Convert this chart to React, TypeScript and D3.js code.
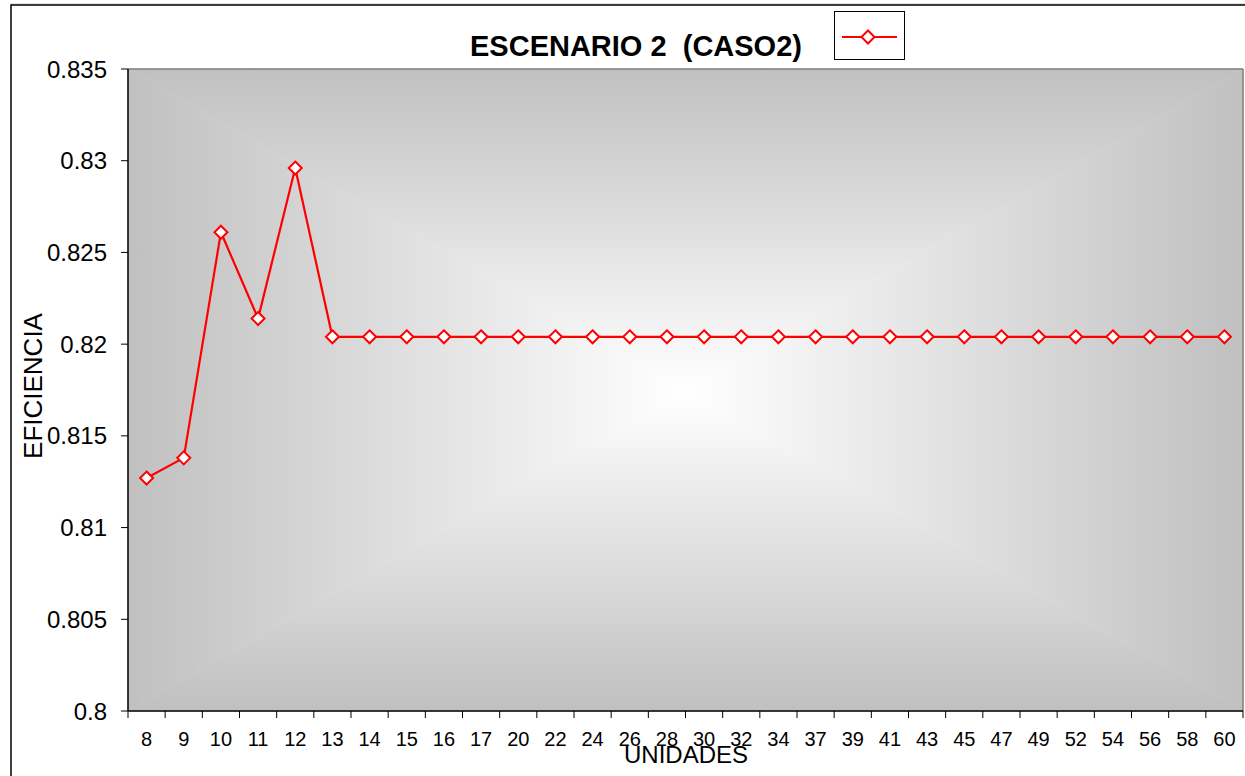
import React from "react";
import * as d3 from "d3";

const categories = ["8","9","10","11","12","13","14","15","16","17","20","22","24","26","28","30","32","34","37","39","41","43","45","47","49","52","54","56","58","60"];
const values = [0.8127,0.8138,0.8261,0.8214,0.8296,0.8204,0.8204,0.8204,0.8204,0.8204,0.8204,0.8204,0.8204,0.8204,0.8204,0.8204,0.8204,0.8204,0.8204,0.8204,0.8204,0.8204,0.8204,0.8204,0.8204,0.8204,0.8204,0.8204,0.8204,0.8204];
const yTicks = [0.8,0.805,0.81,0.815,0.82,0.825,0.83,0.835];
const yTickLabels = ["0.8","0.805","0.81","0.815","0.82","0.825","0.83","0.835"];
const title = "ESCENARIO 2  (CASO2)";
const xTitle = "UNIDADES";
const yTitle = "EFICIENCIA";

const W = 1245, H = 776;
const L = 128, R = 1243, T = 69, B = 711;
const font = "'Liberation Sans', Arial, sans-serif";
const EDGE = "#c0c0c0";
const CENTER = "#ffffff";

function diamond(cx: number, cy: number, r: number) {
  return `M${cx},${cy - r}L${cx + r},${cy}L${cx},${cy + r}L${cx - r},${cy}Z`;
}

export default function App() {
  const x = d3.scaleBand<string>().domain(categories).range([L, R]);
  const y = d3.scaleLinear().domain([0.8, 0.835]).range([B, T]);
  const cx = (L + R) / 2, cy = (T + B) / 2;
  const line = d3.line<number>().x((_, i) => (x(categories[i]) as number) + x.bandwidth() / 2).y(d => y(d));
  const boundaries = categories.map(c => x(c) as number).concat([R]);

  return (
    <svg width={W} height={H} style={{ position: "absolute", left: 0, top: 0 }} fontFamily={font}>
      <defs>
        <linearGradient id="gTop" gradientUnits="userSpaceOnUse" x1={0} y1={T} x2={0} y2={cy}>
          <stop offset="0" stopColor={EDGE} /><stop offset="1" stopColor={CENTER} />
        </linearGradient>
        <linearGradient id="gBot" gradientUnits="userSpaceOnUse" x1={0} y1={B} x2={0} y2={cy}>
          <stop offset="0" stopColor={EDGE} /><stop offset="1" stopColor={CENTER} />
        </linearGradient>
        <linearGradient id="gLeft" gradientUnits="userSpaceOnUse" x1={L} y1={0} x2={cx} y2={0}>
          <stop offset="0" stopColor={EDGE} /><stop offset="1" stopColor={CENTER} />
        </linearGradient>
        <linearGradient id="gRight" gradientUnits="userSpaceOnUse" x1={R} y1={0} x2={cx} y2={0}>
          <stop offset="0" stopColor={EDGE} /><stop offset="1" stopColor={CENTER} />
        </linearGradient>
      </defs>
      <rect x={0} y={0} width={W} height={H} fill="#ffffff" />
      <line x1={11} y1={4} x2={W} y2={4} stroke="#c8c8c8" strokeWidth={1} />
      <rect x={11} y={5} width={W + 10} height={H + 10} fill="#ffffff" stroke="#000" strokeWidth={1.5} />

      {/* plot background */}
      <path d={`M${L},${T}L${R},${T}L${cx},${cy}Z`} fill="url(#gTop)" stroke="url(#gTop)" strokeWidth={0.6} />
      <path d={`M${L},${B}L${R},${B}L${cx},${cy}Z`} fill="url(#gBot)" stroke="url(#gBot)" strokeWidth={0.6} />
      <path d={`M${L},${T}L${L},${B}L${cx},${cy}Z`} fill="url(#gLeft)" stroke="url(#gLeft)" strokeWidth={0.6} />
      <path d={`M${R},${T}L${R},${B}L${cx},${cy}Z`} fill="url(#gRight)" stroke="url(#gRight)" strokeWidth={0.6} />
      <line x1={L} y1={T} x2={R} y2={T} stroke="#808080" strokeWidth={1.5} />
      <line x1={R} y1={T} x2={R} y2={B} stroke="#808080" strokeWidth={1.5} />

      {/* axes */}
      <line x1={L} y1={T} x2={L} y2={B} stroke="#000" strokeWidth={1.5} />
      <line x1={L} y1={B} x2={R} y2={B} stroke="#000" strokeWidth={1.5} />
      {yTicks.map((t, i) => (
        <g key={"y" + i}>
          <line x1={L - 7} y1={y(t)} x2={L} y2={y(t)} stroke="#000" strokeWidth={1} />
          <text x={107} y={y(t)} dy="0.36em" textAnchor="end" fontSize={24} fill="#000">{yTickLabels[i]}</text>
        </g>
      ))}
      {boundaries.map((b, i) => (
        <line key={"xt" + i} x1={b} y1={B} x2={b} y2={B + 7} stroke="#000" strokeWidth={1} />
      ))}
      {categories.map(c => (
        <text key={"xl" + c} x={(x(c) as number) + x.bandwidth() / 2} y={746} textAnchor="middle" fontSize={20} fill="#000">{c}</text>
      ))}

      {/* series */}
      <path d={line(values) || ""} fill="none" stroke="#ff0000" strokeWidth={2.2} />
      {values.map((v, i) => (
        <path key={"m" + i} d={diamond((x(categories[i]) as number) + x.bandwidth() / 2, y(v), 6.5)} fill="#ffffff" stroke="#ff0000" strokeWidth={2} />
      ))}

      {/* titles */}
      <text x={636} y={56} textAnchor="middle" fontSize={29} fontWeight="bold" fill="#000" style={{ whiteSpace: "pre" }} xmlSpace="preserve">{title}</text>
      <text x={686} y={763} textAnchor="middle" fontSize={24} fill="#000">{xTitle}</text>
      <text transform={`translate(42,386) rotate(-90)`} textAnchor="middle" fontSize={26} fill="#000">{yTitle}</text>

      {/* legend */}
      <rect x={834.5} y={11.5} width={70} height={48} fill="#ffffff" stroke="#000" strokeWidth={1} />
      <line x1={842} y1={37} x2={897} y2={37} stroke="#ff0000" strokeWidth={2.2} />
      <path d={diamond(868, 37, 6.5)} fill="#ffffff" stroke="#ff0000" strokeWidth={2} />
    </svg>
  );
}
